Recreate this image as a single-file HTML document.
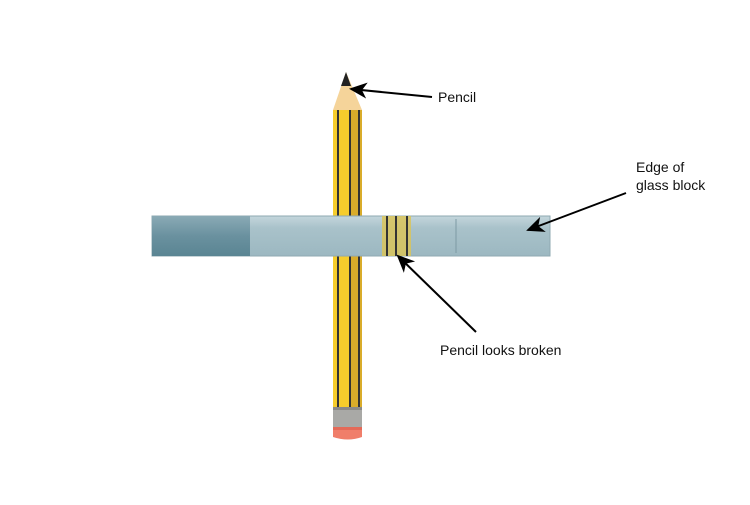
<!DOCTYPE html>
<html><head><style>
body{margin:0;width:750px;height:500px;background:#fff;overflow:hidden;font-family:"Liberation Sans",sans-serif}
</style></head><body>
<svg width="750" height="500" xmlns="http://www.w3.org/2000/svg">
<defs>
<linearGradient id="gl" x1="0" y1="0" x2="0" y2="1"><stop offset="0" stop-color="#c4d6dc"/><stop offset="0.3" stop-color="#a9c2ca"/><stop offset="1" stop-color="#9cb8c1"/></linearGradient>
<linearGradient id="dk" x1="0" y1="0" x2="0" y2="1"><stop offset="0" stop-color="#8aaab5"/><stop offset="0.5" stop-color="#6a919f"/><stop offset="1" stop-color="#5a8593"/></linearGradient>
<marker id="ah" markerWidth="18" markerHeight="16" refX="16" refY="8" orient="auto" markerUnits="userSpaceOnUse" viewBox="0 0 18 16"><path d="M0,0 L18,8 L0,16 L5,8 Z" fill="#000"/></marker>
</defs>
<polygon points="346,72 333,110 362,110" fill="#f5d49a"/>
<polygon points="346,72 341,86 351,86" fill="#222"/>
<rect x="333" y="110" width="29" height="297" fill="#f6cd2c"/>
<rect x="350" y="110" width="12" height="297" fill="#d9ac2a"/>
<rect x="337" y="110" width="2" height="297" fill="#333"/>
<rect x="349" y="110" width="2" height="297" fill="#333"/>
<rect x="358" y="110" width="2" height="297" fill="#333"/>
<rect x="333" y="407" width="29" height="20" fill="#a9a9a6"/>
<rect x="333" y="407" width="29" height="3" fill="#8a8a88"/>
<path d="M333,427 h29 v10 q-14,5 -29,0 Z" fill="#f07e6a"/>
<path d="M333,427 h29 v3 h-29 Z" fill="#e46a58"/>
<rect x="152" y="216" width="398" height="40" fill="url(#gl)" stroke="#8fa9b2" stroke-width="1"/>
<rect x="152" y="216" width="98" height="40" fill="url(#dk)"/>
<line x1="456" y1="219" x2="456" y2="253" stroke="#7d9aa4"/>
<rect x="382" y="216" width="29" height="40" fill="#d9c45a" opacity="0.85"/>
<rect x="386" y="216" width="2" height="40" fill="#333"/>
<rect x="395" y="216" width="2" height="40" fill="#333"/>
<rect x="406" y="216" width="2" height="40" fill="#333"/>
<line x1="432" y1="97" x2="351" y2="89" stroke="#000" stroke-width="2" marker-end="url(#ah)"/>
<line x1="626" y1="193" x2="528" y2="230" stroke="#000" stroke-width="2" marker-end="url(#ah)"/>
<line x1="476" y1="332" x2="398" y2="256" stroke="#000" stroke-width="2" marker-end="url(#ah)"/>
<g font-size="14" fill="#111">
<text x="438" y="102">Pencil</text>
<text x="636" y="172">Edge of</text>
<text x="636" y="190">glass block</text>
<text x="440" y="355">Pencil looks broken</text>
</g>
</svg>
</body></html>
